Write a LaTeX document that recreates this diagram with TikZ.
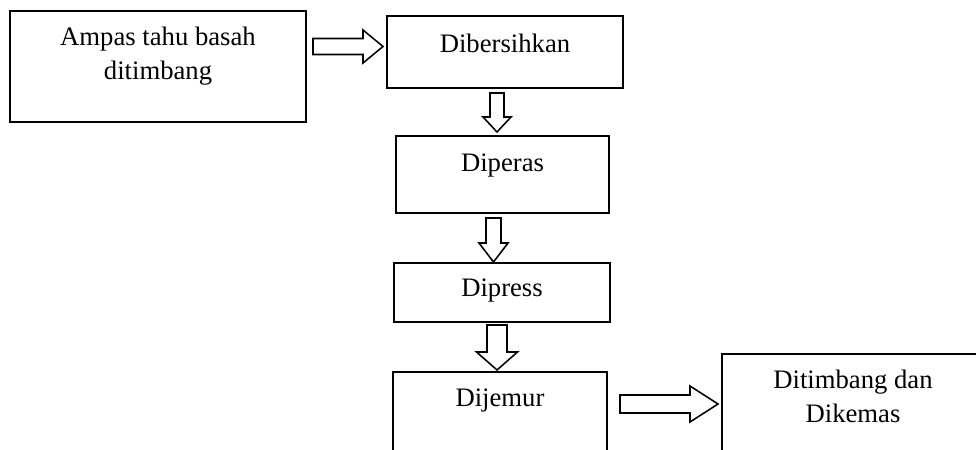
\documentclass[tikz,border=0pt]{standalone}
\usepackage{fontspec}
\setmainfont{Liberation Serif}
\newcommand{\blokpanah}[6]{% #1 pangkal, #2 sudut, #3 panjang, #4 setengah batang, #5 setengah kepala, #6 panjang kepala
  \draw[panah,shift={(#1)},rotate=#2] (0,-#4) -- (#3-#6,-#4) -- (#3-#6,-#5) -- (#3,0)
    -- (#3-#6,#5) -- (#3-#6,#4) -- (0,#4) -- cycle;}
\begin{document}
\begin{tikzpicture}[x=0.45pt,y=-0.45pt,font=\fontsize{12}{15.5}\selectfont,line join=miter]
  \def\u{0.45pt}
  \tikzset{kotak/.style 2 args={draw,line width=0.9pt,inner sep=0pt,minimum width={#1*\u},minimum height={#2*\u}},
    teks/.style={anchor=base,align=center,inner sep=0pt},
    panah/.style={draw,line width=0.7pt,fill=white}}
  \clip (0,0) rectangle (976,450);
  % kotak proses
  \node[kotak={296}{111}] (ampas) at (158,66.5) {};
  \node[kotak={236}{72}] (bersih) at (505,52) {};
  \node[kotak={213}{77}] (peras) at (502.5,174.5) {};
  \node[kotak={216}{59}] (press) at (502,292.5) {};
  \node[kotak={214}{98}] (jemur) at (500,421) {};
  \node[kotak={262}{116}] (kemas) at (853,412) {};
  % teks (base = garis dasar baris terakhir)
  \node[teks] (tampas) at (158,80) {Ampas tahu basah\\ditimbang};
  \node[teks] (tbersih) at (505,53) {Dibersihkan};
  \node[teks] (tperas) at (502.5,172) {Diperas};
  \node[teks] (tpress) at (502,297) {Dipress};
  \node[teks] (tjemur) at (500,407) {Dijemur};
  \node[teks] (tkemas) at (853,423) {Ditimbang dan\\Dikemas};
  % panah blok
  \coordinate (p1) at (313,46.5);
  \coordinate (p2) at (497,93);
  \coordinate (p3) at (493.5,218);
  \coordinate (p4) at (497,325);
  \coordinate (p5) at (620,404);
  \blokpanah{p1}{0}{70}{8}{16.5}{20}
  \blokpanah{p2}{-90}{39}{7}{14}{15}
  \blokpanah{p3}{-90}{44}{7.5}{14.5}{19}
  \blokpanah{p4}{-90}{45}{10}{20.5}{18}
  \blokpanah{p5}{0}{98}{9}{18}{28}
\end{tikzpicture}
\end{document}
